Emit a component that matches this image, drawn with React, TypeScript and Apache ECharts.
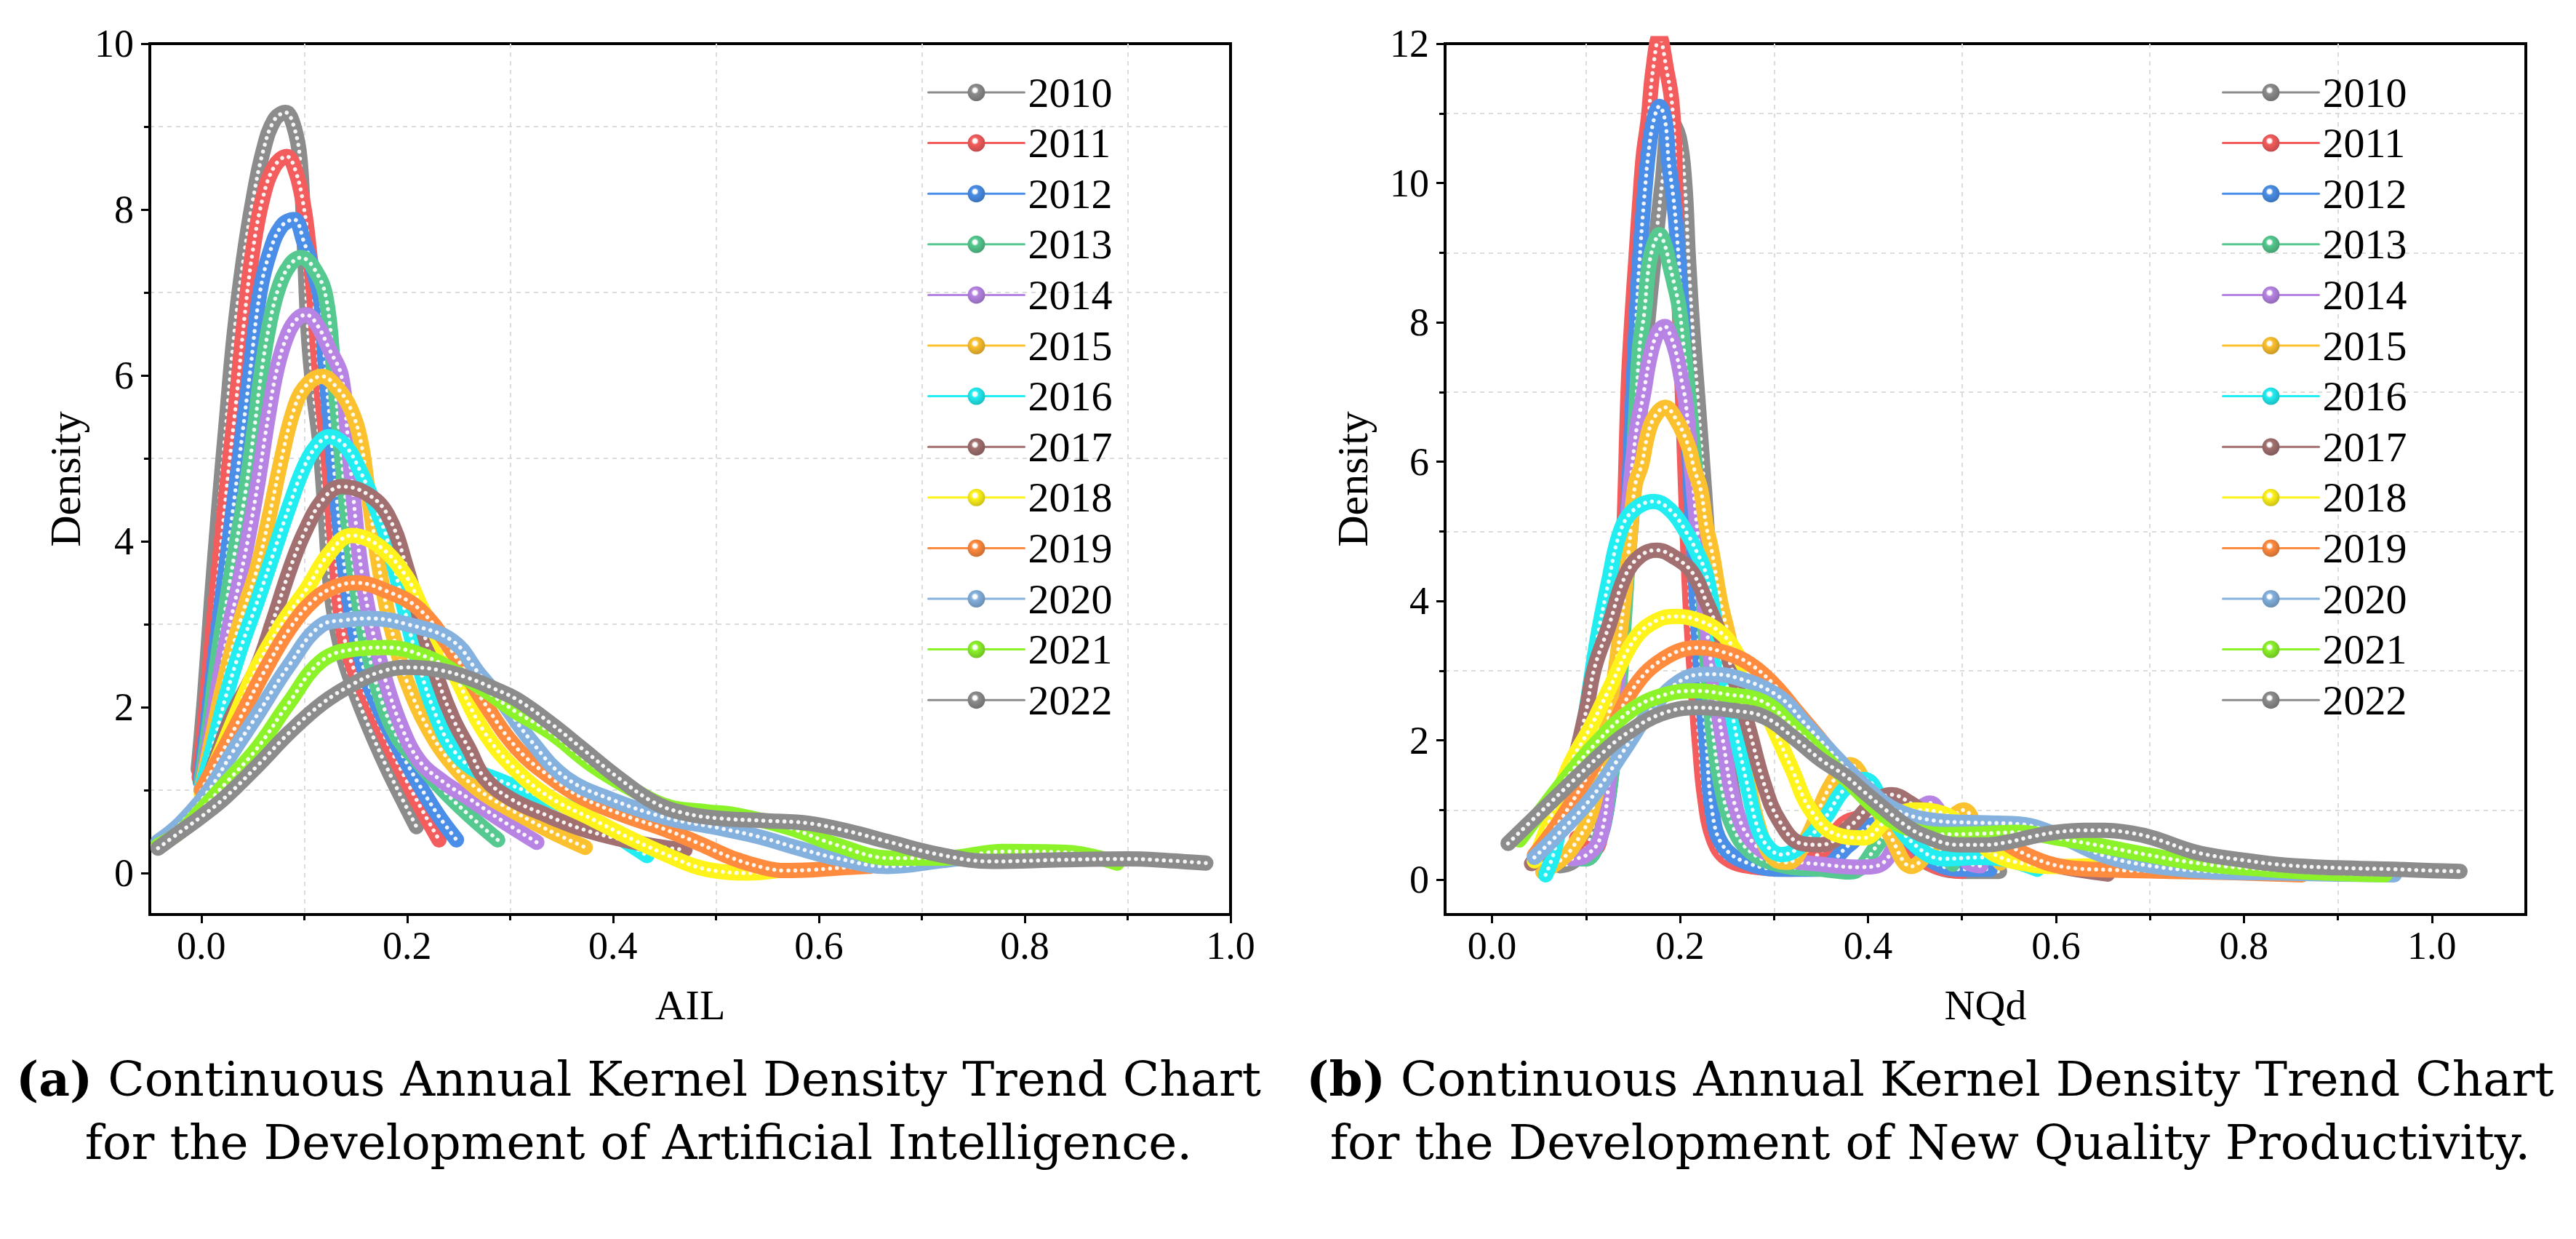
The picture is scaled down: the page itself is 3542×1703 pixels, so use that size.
import { useEffect, useRef } from "react";
import * as echarts from "echarts";

const years = ["2010", "2011", "2012", "2013", "2014", "2015", "2016", "2017", "2018", "2019", "2020", "2021", "2022"];
const colors = ["#8c8c8c", "#f45d5d", "#4a8ee8", "#55c98f", "#b784e4", "#fcc12f", "#22eef2", "#a27070", "#fff31c", "#ff8b3f", "#84b1de", "#8cf22a", "#8c8c8c"];

// (a) AIL kernel density curves, [x, density]
const ail2010 = [[-0.003, 1.25], [0.003, 2.1], [0.01, 3.3], [0.017, 4.4], [0.024, 5.4], [0.032, 6.5], [0.041, 7.4], [0.05, 8.1], [0.06, 8.7], [0.071, 9.08], [0.082, 9.17], [0.09, 9.0], [0.096, 8.6], [0.1, 7.6], [0.104, 6.5], [0.109, 5.8], [0.115, 5.2], [0.12, 4.4], [0.126, 3.4], [0.135, 2.75], [0.149, 2.2], [0.165, 1.7], [0.18, 1.28], [0.195, 0.9], [0.209, 0.56]];
const ail2011 = [[-0.002, 1.15], [0.004, 1.9], [0.011, 2.9], [0.018, 3.8], [0.026, 4.8], [0.034, 5.7], [0.042, 6.7], [0.05, 7.5], [0.06, 8.15], [0.071, 8.52], [0.083, 8.64], [0.092, 8.45], [0.1, 8.0], [0.105, 7.5], [0.109, 7.0], [0.115, 6.0], [0.12, 5.4], [0.124, 4.9], [0.131, 3.77], [0.138, 2.9], [0.15, 2.4], [0.162, 2.09], [0.18, 1.6], [0.2, 1.1], [0.215, 0.75], [0.231, 0.4]];
const ail2012 = [[-0.001, 1.1], [0.006, 1.8], [0.014, 2.7], [0.022, 3.5], [0.03, 4.3], [0.038, 5.1], [0.047, 6.0], [0.057, 7.0], [0.067, 7.5], [0.078, 7.8], [0.09, 7.88], [0.1, 7.6], [0.108, 7.3], [0.116, 6.9], [0.12, 6.2], [0.126, 5.3], [0.131, 4.6], [0.137, 3.9], [0.145, 3.2], [0.157, 2.5], [0.172, 2.0], [0.19, 1.55], [0.21, 1.1], [0.23, 0.7], [0.248, 0.4]];
const ail2013 = [[0.0, 1.1], [0.008, 1.8], [0.016, 2.6], [0.025, 3.3], [0.033, 3.9], [0.043, 4.6], [0.052, 5.4], [0.058, 6.0], [0.066, 6.6], [0.075, 7.05], [0.086, 7.33], [0.097, 7.42], [0.109, 7.3], [0.121, 6.95], [0.129, 6.0], [0.135, 5.2], [0.142, 4.3], [0.15, 3.5], [0.16, 2.8], [0.172, 2.2], [0.19, 1.65], [0.21, 1.35], [0.235, 1.0], [0.26, 0.7], [0.288, 0.4]];
const ail2014 = [[0.0, 1.0], [0.008, 1.6], [0.017, 2.3], [0.026, 2.9], [0.035, 3.4], [0.045, 4.0], [0.055, 4.7], [0.065, 5.5], [0.074, 6.1], [0.084, 6.5], [0.093, 6.68], [0.102, 6.73], [0.113, 6.6], [0.125, 6.3], [0.136, 6.0], [0.142, 5.3], [0.148, 4.5], [0.155, 3.7], [0.165, 3.0], [0.18, 2.28], [0.195, 1.75], [0.212, 1.35], [0.235, 1.1], [0.26, 0.9], [0.29, 0.65], [0.326, 0.37]];
const ail2015 = [[0.0, 1.0], [0.01, 1.6], [0.02, 2.2], [0.03, 2.7], [0.042, 3.2], [0.054, 3.66], [0.066, 4.3], [0.078, 5.0], [0.089, 5.55], [0.1, 5.85], [0.117, 5.99], [0.132, 5.85], [0.145, 5.6], [0.155, 5.2], [0.162, 4.6], [0.17, 3.9], [0.18, 3.2], [0.19, 2.7], [0.2, 2.3], [0.22, 1.75], [0.244, 1.31], [0.27, 1.0], [0.307, 0.72], [0.34, 0.5], [0.373, 0.31]];
const ail2016 = [[0.0, 1.0], [0.012, 1.55], [0.023, 2.09], [0.038, 2.7], [0.054, 3.26], [0.07, 3.85], [0.086, 4.44], [0.1, 4.9], [0.112, 5.15], [0.124, 5.26], [0.14, 5.15], [0.155, 4.83], [0.168, 4.45], [0.18, 4.05], [0.196, 3.25], [0.212, 2.48], [0.228, 1.9], [0.244, 1.5], [0.265, 1.25], [0.291, 1.11], [0.33, 0.92], [0.37, 0.72], [0.4, 0.48], [0.433, 0.21]];
const ail2017 = [[0.002, 0.92], [0.015, 1.4], [0.03, 1.9], [0.054, 2.48], [0.07, 3.05], [0.086, 3.66], [0.1, 4.1], [0.118, 4.5], [0.136, 4.66], [0.16, 4.58], [0.181, 4.32], [0.2, 3.66], [0.215, 2.95], [0.231, 2.29], [0.245, 1.85], [0.26, 1.5], [0.275, 1.15], [0.3, 0.9], [0.335, 0.7], [0.37, 0.53], [0.41, 0.4], [0.449, 0.31], [0.47, 0.28]];
const ail2018 = [[0.0, 0.95], [0.015, 1.35], [0.03, 1.8], [0.054, 2.48], [0.078, 3.0], [0.102, 3.42], [0.124, 3.85], [0.146, 4.07], [0.172, 3.95], [0.199, 3.58], [0.214, 3.2], [0.228, 2.87], [0.25, 2.3], [0.275, 1.7], [0.305, 1.25], [0.339, 0.91], [0.38, 0.65], [0.42, 0.4], [0.454, 0.21], [0.48, 0.08], [0.503, 0.02], [0.53, 0.0], [0.56, 0.03]];
const ail2019 = [[0.0, 1.0], [0.02, 1.45], [0.039, 1.9], [0.062, 2.45], [0.086, 2.95], [0.11, 3.3], [0.13, 3.45], [0.15, 3.5], [0.18, 3.4], [0.212, 3.18], [0.244, 2.67], [0.275, 2.05], [0.307, 1.5], [0.34, 1.15], [0.37, 0.91], [0.41, 0.7], [0.45, 0.53], [0.485, 0.35], [0.516, 0.18], [0.545, 0.07], [0.567, 0.03], [0.595, 0.04], [0.617, 0.06], [0.65, 0.08]];
const ail2020 = [[-0.042, 0.38], [-0.02, 0.6], [0.007, 0.99], [0.03, 1.45], [0.054, 1.9], [0.085, 2.5], [0.117, 2.99], [0.14, 3.05], [0.162, 3.07], [0.2, 3.0], [0.244, 2.8], [0.27, 2.4], [0.291, 2.09], [0.32, 1.6], [0.354, 1.15], [0.4, 0.88], [0.454, 0.66], [0.5, 0.55], [0.541, 0.44], [0.58, 0.3], [0.617, 0.18], [0.667, 0.08], [0.72, 0.15], [0.76, 0.2], [0.8, 0.18]];
const ail2021 = [[-0.042, 0.33], [-0.02, 0.5], [0.0, 0.76], [0.025, 1.1], [0.054, 1.5], [0.085, 2.05], [0.117, 2.56], [0.15, 2.7], [0.18, 2.72], [0.22, 2.6], [0.25, 2.4], [0.275, 2.21], [0.305, 1.95], [0.339, 1.7], [0.38, 1.3], [0.42, 1.0], [0.454, 0.8], [0.49, 0.74], [0.52, 0.7], [0.57, 0.55], [0.617, 0.34], [0.67, 0.18], [0.72, 0.18], [0.78, 0.26], [0.84, 0.25], [0.89, 0.12]];
const ail2022 = [[-0.042, 0.3], [-0.02, 0.5], [0.0, 0.68], [0.023, 0.91], [0.055, 1.3], [0.086, 1.7], [0.118, 2.05], [0.149, 2.29], [0.175, 2.43], [0.2, 2.48], [0.23, 2.45], [0.26, 2.35], [0.285, 2.22], [0.307, 2.09], [0.34, 1.8], [0.37, 1.5], [0.405, 1.15], [0.44, 0.85], [0.47, 0.72], [0.503, 0.66], [0.55, 0.63], [0.59, 0.6], [0.63, 0.5], [0.667, 0.38], [0.718, 0.22], [0.768, 0.14], [0.836, 0.16], [0.9, 0.17], [0.94, 0.15], [0.976, 0.12]];
const ailCurves = [ail2010, ail2011, ail2012, ail2013, ail2014, ail2015, ail2016, ail2017, ail2018, ail2019, ail2020, ail2021, ail2022];

// (b) NQd kernel density curves, [x, density]
const nqd2010 = [[0.072, 0.2], [0.085, 0.25], [0.1, 0.45], [0.115, 1.1], [0.127, 2.2], [0.138, 3.6], [0.148, 5.1], [0.157, 6.6], [0.165, 7.9], [0.173, 9.0], [0.181, 10.0], [0.19, 10.9], [0.199, 10.66], [0.205, 10.0], [0.209, 8.9], [0.214, 7.8], [0.219, 6.9], [0.226, 5.6], [0.233, 4.2], [0.241, 2.9], [0.25, 1.8], [0.26, 1.0], [0.272, 0.5], [0.29, 0.3], [0.32, 0.22], [0.35, 0.35], [0.38, 0.7], [0.41, 0.75], [0.44, 0.45], [0.47, 0.2], [0.5, 0.12], [0.54, 0.12]];
const nqd2011 = [[0.09, 0.6], [0.1, 0.45], [0.109, 0.44], [0.118, 0.8], [0.126, 1.5], [0.132, 2.5], [0.137, 3.8], [0.141, 5.3], [0.145, 7.1], [0.149, 8.1], [0.153, 8.9], [0.157, 9.7], [0.161, 10.4], [0.166, 10.9], [0.171, 11.6], [0.178, 12.1], [0.186, 11.6], [0.191, 11.2], [0.194, 10.6], [0.196, 9.5], [0.199, 8.3], [0.203, 6.8], [0.207, 5.2], [0.211, 3.9], [0.216, 2.8], [0.221, 1.9], [0.226, 1.2], [0.235, 0.6], [0.25, 0.3], [0.28, 0.18], [0.317, 0.15], [0.35, 0.4], [0.38, 0.85], [0.41, 0.9], [0.44, 0.5], [0.47, 0.2], [0.5, 0.12]];
const nqd2012 = [[0.085, 0.35], [0.1, 0.3], [0.112, 0.5], [0.122, 1.0], [0.13, 1.9], [0.137, 3.2], [0.143, 4.8], [0.148, 6.4], [0.153, 7.9], [0.157, 8.9], [0.162, 9.8], [0.167, 10.5], [0.172, 10.9], [0.178, 11.1], [0.184, 10.9], [0.188, 10.3], [0.193, 9.78], [0.197, 9.2], [0.202, 8.2], [0.207, 6.9], [0.212, 5.4], [0.218, 3.9], [0.223, 2.8], [0.228, 1.97], [0.234, 1.0], [0.245, 0.5], [0.27, 0.25], [0.31, 0.15], [0.347, 0.15], [0.38, 0.5], [0.41, 0.8], [0.44, 0.6], [0.47, 0.25], [0.5, 0.15], [0.53, 0.15]];
const nqd2013 = [[0.085, 0.3], [0.1, 0.3], [0.113, 0.55], [0.124, 1.2], [0.133, 2.3], [0.141, 3.8], [0.148, 5.4], [0.153, 6.7], [0.157, 7.65], [0.162, 8.14], [0.165, 8.6], [0.168, 8.9], [0.173, 9.15], [0.178, 9.26], [0.184, 9.1], [0.189, 8.82], [0.194, 8.54], [0.199, 8.22], [0.205, 7.5], [0.211, 6.7], [0.218, 5.6], [0.224, 4.2], [0.23, 2.9], [0.236, 2.0], [0.243, 1.4], [0.255, 0.8], [0.275, 0.4], [0.31, 0.2], [0.35, 0.15], [0.381, 0.11], [0.41, 0.5], [0.43, 0.95], [0.448, 1.05], [0.468, 0.6], [0.49, 0.22]];
const nqd2014 = [[0.085, 0.3], [0.1, 0.35], [0.115, 0.6], [0.125, 1.5], [0.132, 2.5], [0.138, 4.0], [0.145, 5.3], [0.153, 6.4], [0.161, 6.96], [0.168, 7.5], [0.176, 7.85], [0.184, 7.94], [0.19, 7.8], [0.196, 7.55], [0.202, 7.14], [0.206, 6.86], [0.213, 5.8], [0.222, 4.5], [0.232, 3.2], [0.246, 1.97], [0.26, 1.0], [0.28, 0.5], [0.31, 0.3], [0.35, 0.22], [0.39, 0.18], [0.41, 0.2], [0.44, 0.75], [0.466, 1.1], [0.485, 0.7], [0.505, 0.26], [0.52, 0.2]];
const nqd2015 = [[0.054, 0.11], [0.07, 0.25], [0.085, 0.45], [0.106, 0.98], [0.12, 2.0], [0.136, 3.5], [0.146, 4.8], [0.152, 5.65], [0.159, 5.95], [0.165, 6.35], [0.172, 6.62], [0.184, 6.78], [0.197, 6.58], [0.209, 6.22], [0.215, 5.9], [0.222, 5.6], [0.228, 5.07], [0.234, 4.7], [0.243, 3.99], [0.253, 3.4], [0.262, 2.5], [0.272, 1.5], [0.285, 0.7], [0.3, 0.3], [0.315, 0.25], [0.335, 0.6], [0.36, 1.35], [0.381, 1.65], [0.4, 1.3], [0.425, 0.6], [0.446, 0.19], [0.47, 0.5], [0.502, 1.0], [0.52, 0.6], [0.541, 0.24]];
const nqd2016 = [[0.057, 0.07], [0.066, 0.4], [0.075, 1.0], [0.086, 1.6], [0.097, 2.2], [0.112, 3.46], [0.124, 4.28], [0.136, 4.98], [0.15, 5.3], [0.172, 5.43], [0.19, 5.3], [0.207, 4.98], [0.218, 4.7], [0.228, 4.37], [0.24, 3.5], [0.25, 2.8], [0.258, 2.2], [0.271, 1.39], [0.283, 0.73], [0.295, 0.45], [0.308, 0.36], [0.33, 0.5], [0.355, 0.9], [0.375, 1.3], [0.396, 1.44], [0.42, 1.0], [0.45, 0.5], [0.48, 0.3], [0.52, 0.32], [0.55, 0.28], [0.58, 0.15]];
const nqd2017 = [[0.042, 0.23], [0.06, 0.6], [0.075, 1.1], [0.088, 1.72], [0.1, 2.42], [0.109, 3.04], [0.124, 3.63], [0.142, 4.37], [0.158, 4.65], [0.175, 4.73], [0.195, 4.62], [0.213, 4.41], [0.228, 3.99], [0.246, 3.4], [0.26, 2.8], [0.274, 2.13], [0.289, 1.39], [0.305, 0.86], [0.329, 0.52], [0.35, 0.5], [0.381, 0.77], [0.405, 1.1], [0.425, 1.22], [0.445, 1.1], [0.47, 0.85], [0.5, 0.6], [0.53, 0.45], [0.56, 0.35], [0.6, 0.2], [0.655, 0.08]];
const nqd2018 = [[0.045, 0.27], [0.06, 0.8], [0.081, 1.6], [0.106, 2.22], [0.124, 2.72], [0.152, 3.46], [0.175, 3.72], [0.197, 3.78], [0.22, 3.72], [0.243, 3.55], [0.258, 3.3], [0.28, 2.75], [0.305, 2.01], [0.32, 1.56], [0.338, 1.02], [0.366, 0.65], [0.396, 0.6], [0.42, 0.85], [0.45, 1.0], [0.48, 0.95], [0.51, 0.65], [0.535, 0.36], [0.57, 0.22], [0.6, 0.19], [0.65, 0.2], [0.7, 0.2], [0.75, 0.17], [0.787, 0.15]];
const nqd2019 = [[0.045, 0.35], [0.07, 0.8], [0.1, 1.45], [0.124, 2.05], [0.149, 2.72], [0.18, 3.15], [0.219, 3.33], [0.25, 3.25], [0.274, 3.1], [0.3, 2.8], [0.325, 2.4], [0.35, 2.0], [0.38, 1.5], [0.41, 1.05], [0.44, 0.82], [0.47, 0.8], [0.5, 0.8], [0.53, 0.65], [0.57, 0.35], [0.61, 0.18], [0.66, 0.14], [0.72, 0.12], [0.79, 0.1], [0.862, 0.07]];
const nqd2020 = [[0.045, 0.32], [0.07, 0.65], [0.106, 1.18], [0.14, 1.85], [0.17, 2.45], [0.2, 2.85], [0.228, 2.95], [0.26, 2.9], [0.305, 2.63], [0.335, 2.21], [0.37, 1.7], [0.4, 1.3], [0.43, 1.0], [0.47, 0.85], [0.51, 0.82], [0.56, 0.8], [0.6, 0.65], [0.65, 0.35], [0.7, 0.2], [0.76, 0.12], [0.82, 0.1], [0.9, 0.08], [0.96, 0.07]];
const nqd2021 = [[0.029, 0.57], [0.05, 0.95], [0.075, 1.39], [0.11, 1.95], [0.15, 2.45], [0.185, 2.66], [0.216, 2.71], [0.25, 2.66], [0.289, 2.55], [0.32, 2.2], [0.35, 1.81], [0.38, 1.4], [0.412, 0.98], [0.44, 0.75], [0.48, 0.65], [0.52, 0.66], [0.56, 0.68], [0.6, 0.6], [0.65, 0.48], [0.7, 0.35], [0.76, 0.22], [0.82, 0.15], [0.88, 0.1], [0.95, 0.07]];
const nqd2022 = [[0.017, 0.52], [0.05, 0.95], [0.09, 1.47], [0.12, 1.85], [0.142, 2.09], [0.18, 2.38], [0.219, 2.47], [0.255, 2.43], [0.289, 2.34], [0.32, 2.05], [0.35, 1.72], [0.375, 1.5], [0.396, 1.26], [0.42, 0.99], [0.44, 0.78], [0.458, 0.64], [0.497, 0.5], [0.525, 0.5], [0.549, 0.54], [0.575, 0.62], [0.6, 0.68], [0.63, 0.71], [0.652, 0.71], [0.68, 0.67], [0.703, 0.6], [0.75, 0.39], [0.8, 0.28], [0.843, 0.21], [0.9, 0.17], [0.96, 0.15], [1.0, 0.13], [1.03, 0.12]];
const nqdCurves = [nqd2010, nqd2011, nqd2012, nqd2013, nqd2014, nqd2015, nqd2016, nqd2017, nqd2018, nqd2019, nqd2020, nqd2021, nqd2022];

const xTicks = [0, 0.2, 0.4, 0.6, 0.8, 1.0];
const xMinorTicks = [0.1, 0.3, 0.5, 0.7, 0.9];
const yTicksAIL = [0, 2, 4, 6, 8, 10];
const yMinorAIL = [1, 3, 5, 7, 9];
const yTicksNQd = [0, 2, 4, 6, 8, 10, 12];
const yMinorNQd = [1, 3, 5, 7, 9, 11];

const captionA = ["(a)", "Continuous Annual Kernel Density Trend Chart", "for the Development of Artificial Intelligence."];
const captionB = ["(b)", "Continuous Annual Kernel Density Trend Chart", "for the Development of New Quality Productivity."];

const SERIF = "'Liberation Serif', 'Times New Roman', serif";
const CAPTION_FONT = "'DejaVu Serif', serif";

function shade(hex: string, f: number) {
  const n = parseInt(hex.slice(1), 16);
  const r = Math.round(((n >> 16) & 255) * f);
  const g = Math.round(((n >> 8) & 255) * f);
  const b = Math.round((n & 255) * f);
  return `rgb(${r},${g},${b})`;
}

function sphere(c: string) {
  return new echarts.graphic.RadialGradient(0.42, 0.38, 0.62, [
    { offset: 0, color: "#ffffff" },
    { offset: 0.18, color: "#ffffff" },
    { offset: 0.34, color: c },
    { offset: 1, color: shade(c, 0.8) },
  ]);
}

function curveSeries(curves: number[][][], xi: number, yi: number) {
  const out: any[] = [];
  curves.forEach((data, i) => {
    const c = colors[i];
    out.push({
      type: "line",
      name: years[i],
      xAxisIndex: xi,
      yAxisIndex: yi,
      data,
      smooth: 0.4,
      showSymbol: false,
      symbol: "circle",
      lineStyle: { color: c, width: 21, cap: "round", join: "round" },
      itemStyle: { color: sphere(c) },
      emphasis: { disabled: true },
    });
    out.push({
      type: "line",
      name: years[i],
      xAxisIndex: xi,
      yAxisIndex: yi,
      data,
      smooth: 0.4,
      symbol: "none",
      silent: true,
      lineStyle: { color: "rgba(255,255,255,0.92)", width: 5.5, type: [0.1, 9.5], cap: "round" },
      emphasis: { disabled: true },
    });
  });
  return out;
}

function mainX(gridIndex: number, max: number, name: string) {
  return {
    type: "value",
    gridIndex,
    min: -0.05,
    max,
    position: "bottom",
    name,
    nameLocation: "middle",
    nameGap: 95,
    nameTextStyle: { fontFamily: SERIF, fontSize: 58, color: "#000" },
    axisLine: { onZero: false, lineStyle: { color: "#000", width: 4 } },
    axisTick: { customValues: xTicks, length: 12, lineStyle: { color: "#000", width: 3 } },
    axisLabel: {
      customValues: xTicks,
      formatter: (v: number) => v.toFixed(1),
      margin: 16,
      fontFamily: SERIF,
      fontSize: 54,
      color: "#000",
    },
    splitLine: { show: false },
  };
}

function minorX(gridIndex: number, max: number) {
  return {
    type: "value",
    gridIndex,
    min: -0.05,
    max,
    position: "bottom",
    axisLine: { show: false, onZero: false },
    axisTick: { customValues: xMinorTicks, length: 8, lineStyle: { color: "#000", width: 3 } },
    axisLabel: { show: false },
    splitLine: { show: true, lineStyle: { color: "#dcdcdc", width: 2, type: [6, 6] } },
  };
}

function mainY(gridIndex: number, max: number, ticks: number[], nameGap: number) {
  return {
    type: "value",
    gridIndex,
    min: -0.5,
    max,
    position: "left",
    name: "Density",
    nameLocation: "middle",
    nameRotate: 90,
    nameGap,
    nameTextStyle: { fontFamily: SERIF, fontSize: 60, color: "#000" },
    axisLine: { onZero: false, lineStyle: { color: "#000", width: 4 } },
    axisTick: { customValues: ticks, length: 12, lineStyle: { color: "#000", width: 3 } },
    axisLabel: { customValues: ticks, margin: 22, fontFamily: SERIF, fontSize: 54, color: "#000" },
    splitLine: { show: false },
  };
}

function minorY(gridIndex: number, max: number, ticks: number[]) {
  return {
    type: "value",
    gridIndex,
    min: -0.5,
    max,
    position: "left",
    axisLine: { show: false, onZero: false },
    axisTick: { customValues: ticks, length: 8, lineStyle: { color: "#000", width: 3 } },
    axisLabel: { show: false },
    splitLine: { show: true, lineStyle: { color: "#dcdcdc", width: 2, type: [6, 6] } },
  };
}

function legendAt(left: number) {
  return {
    data: years,
    orient: "vertical",
    left,
    top: 98,
    padding: 0,
    itemWidth: 132,
    itemHeight: 30,
    itemGap: 11.6,
    selectedMode: false,
    lineStyle: { width: 3 },
    textStyle: { fontFamily: SERIF, fontSize: 58, lineHeight: 56, color: "#000" },
  };
}

function captionText(x: number, y: number, text: string) {
  return {
    type: "text",
    x,
    y,
    style: {
      text,
      align: "center",
      verticalAlign: "middle",
      fontFamily: CAPTION_FONT,
      fontSize: 66,
      fill: "#000",
      rich: {
        b: { fontFamily: CAPTION_FONT, fontSize: 66, fontWeight: "bold", fill: "#000" },
      },
    },
  };
}

export default function App() {
  const ref = useRef<HTMLDivElement>(null);

  useEffect(() => {
    if (!ref.current) return;
    document.body.style.margin = "0";
    const chart = echarts.init(ref.current, null, { renderer: "svg" });

    chart.setOption({
      animation: false,
      backgroundColor: "#fff",
      grid: [
        { left: 206, top: 60, width: 1486, height: 1197, show: true, borderColor: "#000", borderWidth: 4 },
        { left: 1987, top: 60, width: 1486, height: 1197, show: true, borderColor: "#000", borderWidth: 4 },
      ],
      xAxis: [mainX(0, 1.0, "AIL"), minorX(0, 1.0), mainX(1, 1.1, "NQd"), minorX(1, 1.1)],
      yAxis: [
        mainY(0, 10, yTicksAIL, 86),
        minorY(0, 10, yMinorAIL),
        mainY(1, 12, yTicksNQd, 97),
        minorY(1, 12, yMinorNQd),
      ],
      legend: [legendAt(1275), legendAt(3055)],
      series: [...curveSeries(ailCurves, 0, 0), ...curveSeries(nqdCurves, 2, 2)],
      graphic: [
        captionText(878, 1483, `{b|${captionA[0]}} ${captionA[1]}`),
        captionText(878, 1570, captionA[2]),
        captionText(2654, 1483, `{b|${captionB[0]}} ${captionB[1]}`),
        captionText(2654, 1570, captionB[2]),
      ],
    });

    return () => {
      chart.dispose();
    };
  }, []);

  return <div ref={ref} style={{ width: 3542, height: 1703 }} />;
}
